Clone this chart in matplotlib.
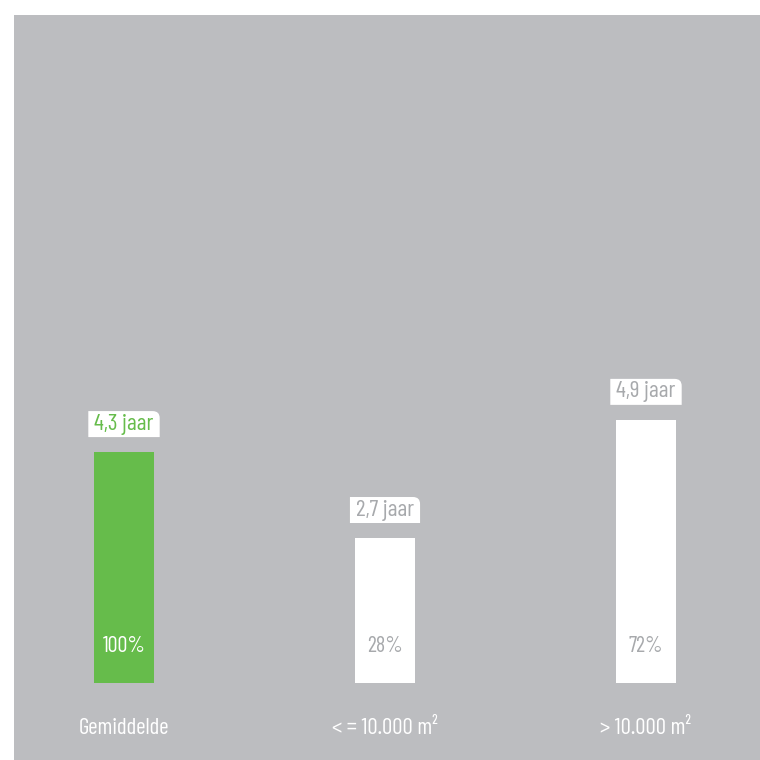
import matplotlib
matplotlib.use("Agg")
import matplotlib.pyplot as plt
from matplotlib.path import Path

categories = ["Gemiddelde", "< = 10.000 m²", "> 10.000 m²"]
years = [4.3, 2.7, 4.9]
year_labels = ["4,3 jaar", "2,7 jaar", "4,9 jaar"]
pct_labels = ["100%", "28%", "72%"]

BG = "#bcbdc0"
GREEN = "#66bc4b"
GRAYTXT = "#a7a9ac"
bar_colors = [GREEN, "white", "white"]
label_colors = [GREEN, GRAYTXT, GRAYTXT]
pct_colors = ["white", GRAYTXT, GRAYTXT]

plt.rcParams["font.family"] = ["Barlow Condensed", "DejaVu Sans"]
plt.rcParams["font.weight"] = 400

fig = plt.figure(figsize=(7.6, 7.6), dpi=100)
fig.patch.set_facecolor("white")

bg = fig.add_axes([14 / 760, 0, 746 / 760, 745 / 760], zorder=0)
bg.set_facecolor(BG)
bg.set_xticks([])
bg.set_yticks([])
for s in bg.spines.values():
    s.set_visible(False)

ax = fig.add_axes([0, 0, 1, 1], zorder=1)
ax.patch.set_alpha(0)
ax.set_xlim(-124 / 261, (760 - 124) / 261)
ppy = 53.7
ax.set_ylim(-77 / ppy, (760 - 77) / ppy)
ax.axis("off")

xs = list(range(len(categories)))
ax.bar(xs, years, width=60 / 261, color=bar_colors, zorder=2)


def tr_round(x0, y0, width, height, mutation_size):
    cy = y0 + height / 2
    h = 26
    yb, yt = cy - h / 2, cy + h / 2
    r = 7
    xl = x0 - 6
    x1 = x0 + width + 6
    verts = [(xl, yb), (x1, yb), (x1, yt - r), (x1, yt), (x1 - r, yt),
             (xl, yt), (xl, yb)]
    codes = [Path.MOVETO, Path.LINETO, Path.LINETO, Path.CURVE3, Path.CURVE3,
             Path.LINETO, Path.CLOSEPOLY]
    return Path(verts, codes)


for x, v, lab, c in zip(xs, years, year_labels, label_colors):
    ax.annotate(lab, (x, v), xytext=(0, 28), textcoords="offset pixels",
                ha="center", va="center", fontsize=17, color=c,
                bbox=dict(boxstyle=tr_round, facecolor="white",
                          edgecolor="none", pad=0.0))

for x, lab, c in zip(xs, pct_labels, pct_colors):
    ax.annotate(lab, (x, 0), xytext=(0, 36), textcoords="offset pixels",
                ha="center", va="center", fontsize=16, color=c, zorder=3)

for x, lab in zip(xs, categories):
    ax.annotate(lab, (x, 0), xytext=(0, -45), textcoords="offset pixels",
                ha="center", va="center", fontsize=16.5, color="white")

fig.savefig("out.png", dpi=100, facecolor="white")
